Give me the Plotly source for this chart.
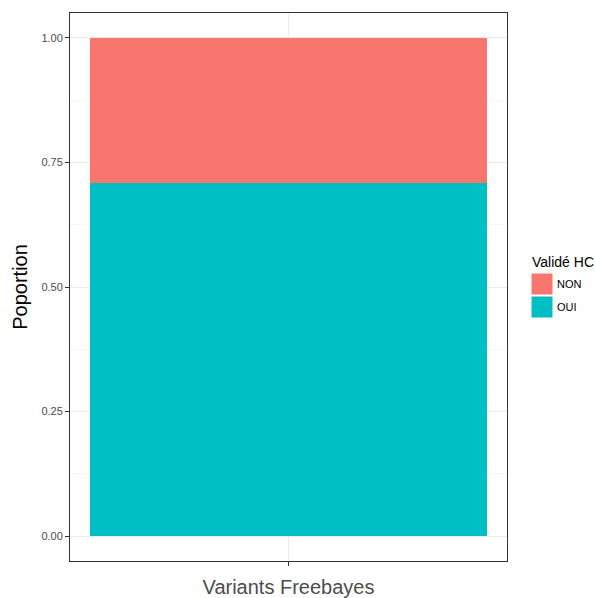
import plotly.graph_objects as go

categories = ["Variants Freebayes"]
groups = ["OUI", "NON"]
oui_values = [0.708]
non_values = [0.292]
colors = {"NON": "#F8766D", "OUI": "#00BFC4"}
y_ticks = [0, 0.25, 0.5, 0.75, 1.0]

fig = go.Figure()
fig.add_trace(go.Bar(x=[0], y=oui_values, name="OUI", marker_color=colors["OUI"],
                     marker_line_width=0, width=0.9, showlegend=False))
fig.add_trace(go.Bar(x=[0], y=non_values, name="NON", marker_color=colors["NON"],
                     marker_line_width=0, width=0.9, showlegend=False))

font = "Liberation Sans, Arial, Helvetica, sans-serif"
fig.update_layout(
    barmode="stack",
    width=595, height=598,
    margin=dict(l=70, r=88, t=13, b=37),
    plot_bgcolor="white", paper_bgcolor="white",
    font=dict(family=font, color="#4d4d4d"),
    xaxis=dict(range=[-0.495, 0.495], tickmode="array", tickvals=[0], ticktext=[""],
               showgrid=True, gridcolor="#ebebeb", gridwidth=1,
               ticks="outside", ticklen=4, tickcolor="#333333",
               showline=True, linecolor="#333333", linewidth=1, mirror=True, zeroline=False,
               automargin=False,
               title=dict(text=categories[0], font=dict(size=20, color="#4d4d4d"), standoff=12)),
    yaxis=dict(range=[-0.05, 1.05], tickmode="array", tickvals=y_ticks,
               tickformat=".2f", tickfont=dict(size=11, color="#4d4d4d"),
               showgrid=True, gridcolor="#ebebeb", gridwidth=1,
               minor=dict(tickmode="array", tickvals=[0.125, 0.375, 0.625, 0.875],
                          showgrid=True, gridcolor="#f5f5f5", gridwidth=0.6, ticks=""),
               ticks="outside", ticklen=4, tickcolor="#333333",
               showline=True, linecolor="#333333", linewidth=1, mirror=True, zeroline=False,
               automargin=False,
               title=dict(text="Poportion", font=dict(size=20, color="black"), standoff=8)),
)

# Legend drawn manually
lx0 = 1.0 + (531 - 507) / 437
kw = 22 / 437
kh = 22 / 548
fig.add_annotation(xref="paper", yref="paper", x=lx0 - 1 / 437, y=1 - (252 - 13) / 548,
                   text="Validé HC", showarrow=False, xanchor="left", yanchor="top",
                   font=dict(size=14, color="black"))
for i, g in enumerate(["NON", "OUI"]):
    top = 1 - (273 - 13 + i * 23) / 548
    fig.add_shape(type="rect", xref="paper", yref="paper", x0=lx0, x1=lx0 + kw,
                  y0=top - kh, y1=top, fillcolor=colors[g], line=dict(width=1, color="white"))
    fig.add_annotation(xref="paper", yref="paper", x=lx0 + kw + 2 / 437, y=top - kh / 2,
                       text=g, showarrow=False, xanchor="left", yanchor="middle",
                       font=dict(size=11, color="black"))

fig.write_html("out.html", config={"displayModeBar": False},
               post_script="document.body.style.margin='0';document.body.style.overflow='hidden';")
